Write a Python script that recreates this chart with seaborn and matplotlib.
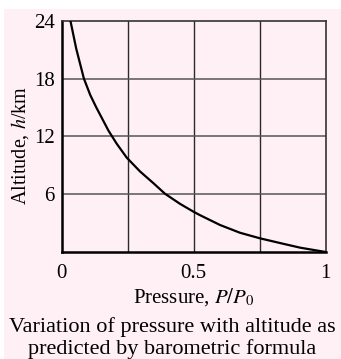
import matplotlib
matplotlib.use("Agg")
import matplotlib.pyplot as plt
import matplotlib.patches as mpatches
import pandas as pd
import seaborn as sns

# values
pressure = [0.033, 0.055, 0.084, 0.108, 0.131, 0.155, 0.177, 0.208, 0.246,
            0.297, 0.347, 0.391, 0.448, 0.498, 0.524, 0.600, 0.675, 0.751,
            0.827, 0.903, 1.0]
altitude = [24.0, 21.1, 18.0, 16.3, 15.0, 13.75, 12.6, 11.25, 9.8,
            8.35, 7.15, 6.05, 5.0, 4.2, 3.82, 2.8, 2.0, 1.42,
            0.93, 0.45, 0.0]

x_ticks = [0, 0.5, 1]
x_tick_labels = ["0", "0.5", "1"]
x_grid = [0.25, 0.5, 0.75]
y_ticks = [6, 12, 18, 24]
y_tick_labels = ["6", "12", "18", "24"]
y_grid = [6, 12, 18]

caption = "Variation of pressure with altitude as\npredicted by barometric formula"

PINK = "#fff0f5"
FS = 15


def main():
    df = pd.DataFrame({"P": pressure, "h": altitude})

    sns.set_theme(style="white")
    plt.rcParams["font.family"] = ["Liberation Serif", "DejaVu Serif"]
    plt.rcParams["mathtext.fontset"] = "stix"

    fig = plt.figure(figsize=(3.41, 3.59), dpi=100)
    fig.patch.set_facecolor("white")

    # pink panel behind everything (starts a few px in from top/left)
    bg = fig.add_axes([0, 0, 1, 1], zorder=0)
    bg.add_patch(mpatches.Rectangle((4 / 341, 0), 1, 1 - 9 / 359,
                                    transform=bg.transAxes,
                                    facecolor=PINK, edgecolor="none"))
    bg.set_axis_off()

    ax = fig.add_axes([61.7 / 341, 1 - 252 / 359, 264 / 341, 231.3 / 359],
                      zorder=2)
    ax.set_facecolor(PINK)

    for g in x_grid:
        ax.axvline(g, color="#2a2a2a", lw=1.0, zorder=1)
    for g in y_grid:
        ax.axhline(g, color="#555555", lw=1.1, zorder=1)

    sns.lineplot(data=df, x="P", y="h", ax=ax, color="black", lw=1.6,
                 sort=False, zorder=3)

    ax.set_xlim(0, 1)
    ax.set_ylim(0, 24)
    ax.set_xticks(x_ticks)
    ax.set_xticklabels(x_tick_labels)
    ax.set_yticks(y_ticks)
    ax.set_yticklabels(y_tick_labels)
    ax.tick_params(length=0, labelsize=FS, colors="black")
    ax.tick_params(axis="x", pad=9)
    ax.tick_params(axis="y", pad=5)

    for side in ["left", "bottom"]:
        ax.spines[side].set_linewidth(1.8)
        ax.spines[side].set_color("black")
    for side in ["top", "right"]:
        ax.spines[side].set_linewidth(1.2)
        ax.spines[side].set_color("#333333")

    ax.set_xlabel(r"Pressure, $P/P_0$", fontsize=FS, color="black", labelpad=2)
    ax.set_ylabel(r"Altitude, $h$/km", fontsize=14.5, color="black",
                  va="center")
    ax.yaxis.set_label_coords(-0.158, 0.46)

    fig.text(0.505, 1 - 338 / 359, caption, ha="center", va="center",
             fontsize=16, linespacing=1.08, color="black")

    fig.savefig("out.png", dpi=100, facecolor=fig.get_facecolor())
    plt.close(fig)


if __name__ == "__main__":
    main()
